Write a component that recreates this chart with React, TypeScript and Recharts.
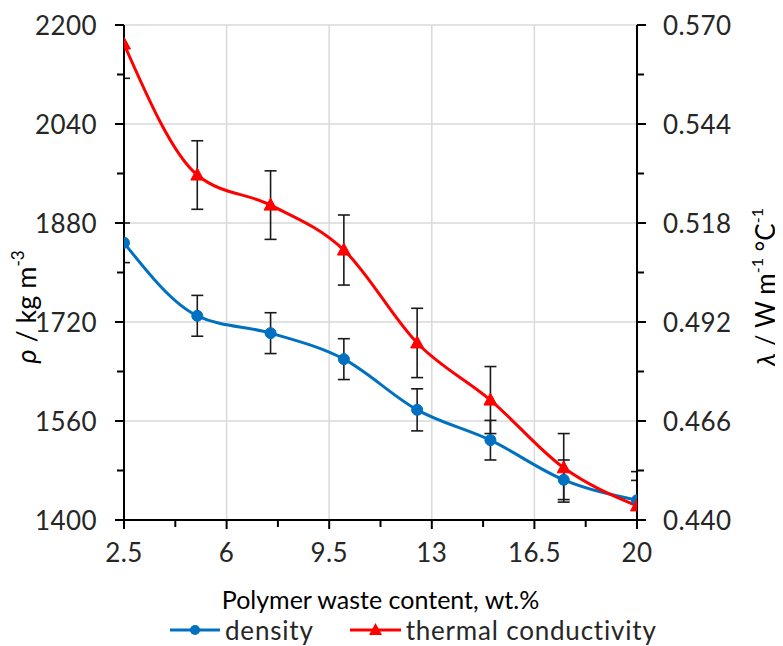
import React from "react";
import { LineChart, Line, XAxis, YAxis, ErrorBar, ReferenceLine, Legend, Label } from "recharts";

// polymer waste content, wt.%
const content = [2.5, 5, 7.5, 10, 12.5, 15, 17.5, 20];
// density, kg m-3
const density = [1848, 1730, 1702, 1660, 1578, 1529, 1465, 1432];
const densityErr = [32, 33, 33, 33, 34, 32, 32, 32];
// thermal conductivity, W m-1 C-1
const conductivity = [0.565, 0.5306, 0.5227, 0.5109, 0.4865, 0.4715, 0.4537, 0.4437];
const conductivityErr = [0.009, 0.009, 0.009, 0.0092, 0.0091, 0.0088, 0.009, 0.009];

const xMajor = [2.5, 6, 9.5, 13, 16.5, 20];
const xMinor = [4.25, 7.75, 11.25, 14.75, 18.25];
const rhoMajor = [1400, 1560, 1720, 1880, 2040, 2200];
const rhoMinor = [1480, 1640, 1800, 1960, 2120];
const lambdaMajor = [0.44, 0.466, 0.492, 0.518, 0.544, 0.57];
const lambdaMinor = [0.453, 0.479, 0.505, 0.531, 0.557];

const FONT = "Lato, 'Open Sans', sans-serif";
const TEXT = "#262626";
const BLUE = "#0070C0";
const RED = "#FF0000";
const GRID = "#d9d9d9";

// layout
const CHART_W = 775;
const CHART_H = 638;
const TOP = 17;
const LEFT_W = 116;
const RIGHT_W = 146;
const X_H = 94;
const LEGEND_H = 32;
const plotClip = {
  x: LEFT_W,
  y: TOP,
  width: CHART_W - LEFT_W - RIGHT_W,
  height: CHART_H - TOP - X_H - LEGEND_H,
};

const data = content.map((c, i) => ({
  content: c,
  density: density[i],
  densityErr: densityErr[i],
  conductivity: conductivity[i],
  conductivityErr: conductivityErr[i],
}));

const isMajor = (list: number[], v: number) => list.some((m) => Math.abs(m - v) < 1e-6);

const tickText = { fontFamily: FONT, fontSize: 26, fill: TEXT, letterSpacing: 0.4 };

function BottomTick({ x, y, payload }: any) {
  const major = isMajor(xMajor, payload.value);
  return (
    <g>
      <line x1={x} x2={x} y1={y} y2={y + (major ? 9 : 7)} stroke="#000" strokeWidth={2} />
      {major && (
        <text x={x} y={y + 32} textAnchor="middle" dominantBaseline="central" {...tickText}>
          {payload.value}
        </text>
      )}
    </g>
  );
}

function LeftTick({ x, y, payload }: any) {
  const major = isMajor(rhoMajor, payload.value);
  return (
    <g>
      <line x1={x} x2={x - (major ? 9 : 7)} y1={y} y2={y} stroke="#000" strokeWidth={2} />
      {major && (
        <text x={x - 27} y={y} textAnchor="end" dominantBaseline="central" {...tickText}>
          {payload.value}
        </text>
      )}
    </g>
  );
}

function RightTick({ x, y, payload }: any) {
  const major = isMajor(lambdaMajor, payload.value);
  return (
    <g>
      <line x1={x} x2={x + (major ? 9 : 7)} y1={y} y2={y} stroke="#000" strokeWidth={2} />
      {major && (
        <text x={x + 26} y={y} textAnchor="start" dominantBaseline="central" {...tickText}>
          {payload.value.toFixed(3)}
        </text>
      )}
    </g>
  );
}

function Triangle({ cx, cy }: any) {
  if (cx == null || cy == null) return null;
  return (
    <polygon
      key={`t-${cx}-${cy}`}
      points={`${cx},${cy - 7} ${cx + 6.5},${cy + 5} ${cx - 6.5},${cy + 5}`}
      fill={RED}
      stroke={RED}
    />
  );
}

function XTitle({ viewBox }: any) {
  return (
    <text
      x={viewBox.x + viewBox.width / 2}
      y={viewBox.y + 79}
      textAnchor="middle"
      dominantBaseline="central"
      fontFamily={FONT}
      fontSize={25}
      fill="#000"
    >
      Polymer waste content, wt.%
    </text>
  );
}

function LeftTitle({ viewBox }: any) {
  const cx = viewBox.x + 17;
  const cy = viewBox.y + 282;
  return (
    <text
      transform={`translate(${cx},${cy}) rotate(-90)`}
      textAnchor="middle"
      dominantBaseline="central"
      fontFamily={FONT}
      fontSize={27}
      fill="#000"
    >
      <tspan fontStyle="italic">ρ</tspan> / kg m<tspan dy={-8} fontSize={17}>-3</tspan>
    </text>
  );
}

function RightTitle({ viewBox }: any) {
  const cx = viewBox.x + viewBox.width - 18;
  const cy = viewBox.y + 262;
  return (
    <text
      transform={`translate(${cx},${cy}) rotate(-90)`}
      textAnchor="middle"
      dominantBaseline="central"
      fontFamily={FONT}
      fontSize={26}
      fill="#000"
    >
      <tspan fontStyle="italic">λ</tspan> / W m<tspan dy={-9} fontSize={16}>-1</tspan>
      <tspan dy={9}> °C</tspan>
      <tspan dy={-9} fontSize={16}>-1</tspan>
    </text>
  );
}

function ChartLegend() {
  return (
    <div
      style={{
        display: "flex",
        alignItems: "center",
        height: LEGEND_H,
        paddingLeft: 162,
        fontFamily: FONT,
        fontSize: 26,
        letterSpacing: 0.8,
        color: TEXT,
      }}
    >
      <svg width={50} height={16} style={{ marginRight: 5 }}>
        <line x1={0} x2={50} y1={8} y2={8} stroke={BLUE} strokeWidth={3} />
        <circle cx={25} cy={8} r={5} fill={BLUE} />
      </svg>
      <span style={{ marginRight: 36 }}>density</span>
      <svg width={51} height={16} style={{ marginRight: 5 }}>
        <line x1={0} x2={51} y1={8} y2={8} stroke={RED} strokeWidth={3} />
        <polygon points="25.5,1 32,13 19,13" fill={RED} />
      </svg>
      <span>thermal conductivity</span>
    </div>
  );
}

export default function App() {
  return (
    <div style={{ position: "relative" }}>
      <svg width={0} height={0} style={{ position: "absolute" }}>
        <defs>
          <clipPath id="plot-clip">
            <rect {...plotClip} />
          </clipPath>
        </defs>
      </svg>
      <style>{`.recharts-errorBars { clip-path: url(#plot-clip); }`}</style>
      <LineChart width={CHART_W} height={CHART_H} data={data} margin={{ top: TOP, right: 0, bottom: 0, left: 0 }}>
        {xMajor.slice(1, -1).map((v) => (
          <ReferenceLine key={`vx-${v}`} x={v} yAxisId="left" stroke={GRID} strokeWidth={1.5} />
        ))}
        {rhoMajor.slice(1).map((v) => (
          <ReferenceLine key={`hy-${v}`} y={v} yAxisId="left" stroke={GRID} strokeWidth={1.5} />
        ))}
        <XAxis
          dataKey="content"
          type="number"
          domain={[2.5, 20]}
          ticks={[...xMajor, ...xMinor].sort((a, b) => a - b)}
          interval={0}
          allowDataOverflow
          height={X_H}
          tickSize={0}
          tickMargin={0}
          tickLine={false}
          tick={<BottomTick />}
          axisLine={{ stroke: "#000", strokeWidth: 2 }}
        >
          <Label content={<XTitle />} />
        </XAxis>
        <YAxis
          yAxisId="left"
          orientation="left"
          type="number"
          domain={[1400, 2200]}
          ticks={[...rhoMajor, ...rhoMinor].sort((a, b) => a - b)}
          interval={0}
          allowDataOverflow
          width={LEFT_W}
          tickSize={0}
          tickMargin={0}
          tickLine={false}
          tick={<LeftTick />}
          axisLine={{ stroke: "#000", strokeWidth: 2 }}
        >
          <Label content={<LeftTitle />} />
        </YAxis>
        <YAxis
          yAxisId="right"
          orientation="right"
          type="number"
          domain={[0.44, 0.57]}
          ticks={[...lambdaMajor, ...lambdaMinor].sort((a, b) => a - b)}
          interval={0}
          allowDataOverflow
          width={RIGHT_W}
          tickSize={0}
          tickMargin={0}
          tickLine={false}
          tick={<RightTick />}
          axisLine={{ stroke: "#000", strokeWidth: 2 }}
        >
          <Label content={<RightTitle />} />
        </YAxis>
        <Legend verticalAlign="bottom" content={<ChartLegend />} wrapperStyle={{ left: 0, width: CHART_W }} />
        <Line
          yAxisId="left"
          dataKey="density"
          type="monotone"
          stroke={BLUE}
          strokeWidth={3}
          dot={{ r: 5.5, fill: BLUE, stroke: BLUE, strokeWidth: 1 }}
          isAnimationActive={false}
        >
          <ErrorBar dataKey="densityErr" direction="y" width={6} stroke="#1a1a1a" strokeWidth={1.6} />
        </Line>
        <Line
          yAxisId="right"
          dataKey="conductivity"
          type="monotone"
          stroke={RED}
          strokeWidth={3}
          dot={<Triangle />}
          isAnimationActive={false}
        >
          <ErrorBar dataKey="conductivityErr" direction="y" width={6} stroke="#1a1a1a" strokeWidth={1.6} />
        </Line>
      </LineChart>
    </div>
  );
}
